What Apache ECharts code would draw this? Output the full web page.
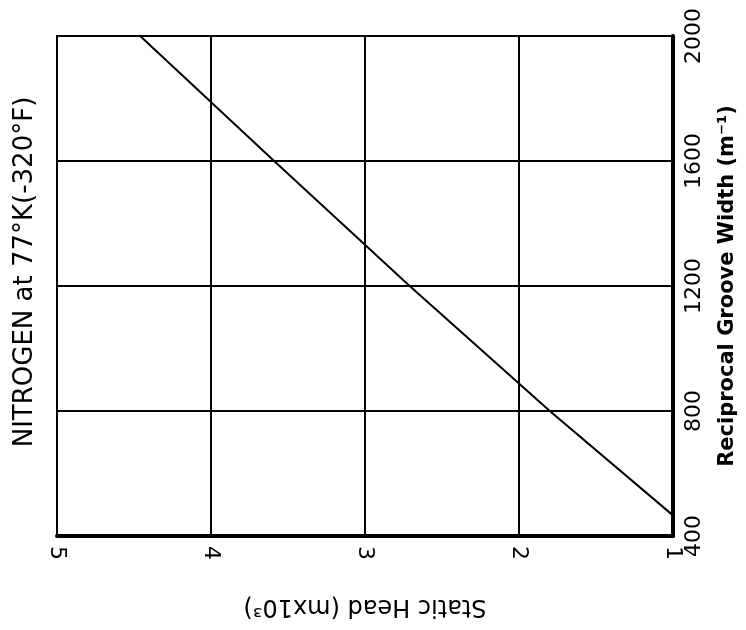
<!DOCTYPE html>
<html>
<head>
<meta charset="utf-8">
<script src="https://cdn.jsdelivr.net/npm/echarts@6/dist/echarts.min.js"></script>
<style>
html, body { margin: 0; padding: 0; background: #fff; }
#main { width: 746px; height: 630px; }
</style>
</head>
<body>
<div id="main"></div>
<script>
// static head (m x10^3) read at each groove width crossing
var staticHead = [4.46, 3.59, 2.71, 1.80, 1.0];
var grooveWidth = [2000, 1600, 1200, 800, 466];
var headTicks = [1, 2, 3, 4, 5];
var widthTicks = [400, 800, 1200, 1600, 2000];

var dom = document.getElementById("main");
var myChart = echarts.init(dom);

var lineData = [];
for (var i = 0; i < staticHead.length; i++) {
    lineData.push([staticHead[i], grooveWidth[i]]);
}

var font = 'DejaVu Sans';

option = {
    animation: false,
    backgroundColor: '#fff',
    grid: {
        left: 57,
        right: 68,
        top: 36,
        bottom: 94,
        show: true,
        borderColor: '#000',
        borderWidth: 2
    },
    graphic: [{
        type: 'text',
        x: 25,
        y: 272,
        rotation: Math.PI / 2,
        style: {
            text: 'NITROGEN at 77°K(-320°F)',
            font: '26px "DejaVu Sans"',
            fill: '#000',
            align: 'center',
            verticalAlign: 'middle'
        }
    }],
    xAxis: {
        type: 'value',
        min: headTicks[0],
        max: headTicks[headTicks.length - 1],
        interval: 1,
        inverse: true,
        position: 'bottom',
        name: 'Static Head (mx10³)',
        nameLocation: 'middle',
        nameRotate: 180,
        nameGap: 58,
        nameTextStyle: {
            fontFamily: font,
            fontSize: 24,
            color: '#000'
        },
        axisLine: {
            lineStyle: { color: '#000', width: 4 }
        },
        axisTick: { show: false },
        axisLabel: {
            rotate: -90,
            margin: 10,
            fontFamily: font,
            fontSize: 22,
            color: '#000'
        },
        splitLine: {
            lineStyle: { color: '#000', width: 2 }
        }
    },
    yAxis: {
        type: 'value',
        min: widthTicks[0],
        max: widthTicks[widthTicks.length - 1],
        interval: 400,
        position: 'right',
        name: 'Reciprocal Groove Width (m⁻¹)',
        nameLocation: 'middle',
        nameRotate: 90,
        nameGap: 44,
        nameTextStyle: {
            fontFamily: font,
            fontSize: 21,
            fontWeight: 'bold',
            color: '#000'
        },
        axisLine: {
            show: true,
            lineStyle: { color: '#000', width: 4 }
        },
        axisTick: { show: false },
        axisLabel: {
            rotate: 90,
            margin: 10,
            fontFamily: font,
            fontSize: 22,
            color: '#000',
            formatter: function (v) { return String(v); }
        },
        splitLine: {
            lineStyle: { color: '#000', width: 2 }
        }
    },
    series: [{
        type: 'line',
        data: lineData,
        symbol: 'none',
        lineStyle: { color: '#000', width: 2 }
    }]
};
if (option && typeof option === "object") {
    myChart.setOption(option, true);
}
window.addEventListener("resize", function () {
    myChart.resize();
})
</script>
</body>
</html>
